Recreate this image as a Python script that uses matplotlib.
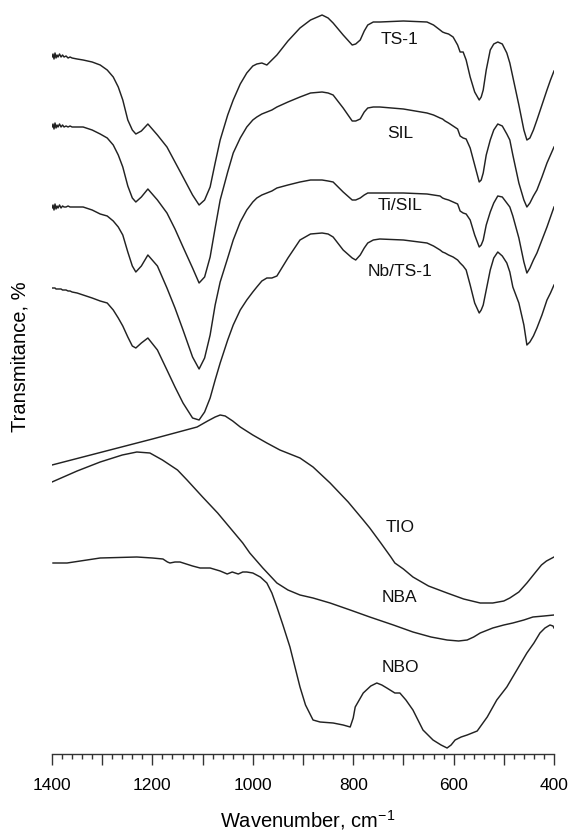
import matplotlib

matplotlib.use("AGG")
import numpy as np
import matplotlib.pyplot as plt
from matplotlib.ticker import MultipleLocator, FuncFormatter

plt.rcParams["font.family"] = ["Liberation Sans", "DejaVu Sans"]

# wavenumber grid shared by the four zeolite spectra (cm-1)
wn_zeo = [1400, 1398, 1396, 1394, 1392, 1390, 1388, 1385, 1382, 1379,
          1376, 1372, 1368, 1364, 1360, 1350, 1338, 1320, 1304, 1290,
          1278, 1268, 1259, 1249, 1240, 1233, 1222, 1209, 1190, 1171,
          1155, 1139, 1120, 1107, 1096, 1085, 1075, 1065, 1050, 1039,
          1025, 1012, 1000, 992, 982, 972, 962, 952, 930, 906,
          885, 862, 850, 840, 820, 802, 795, 786, 778, 771,
          760, 747, 700, 653, 640, 627, 622, 617, 610, 601,
          592, 587, 581, 575, 567, 558, 549, 545, 541, 535,
          527, 520, 512, 503, 494, 488, 482, 470, 460, 454,
          448, 441, 434, 424, 414, 407, 400]

# transmittance, offset stacked (arbitrary units)
ts1 = [697, 700, 695, 701, 696, 699, 697, 700, 697, 699,
       697, 698, 696, 697, 696, 695, 694, 692, 689, 684,
       677, 667, 654, 634, 624, 620, 623, 630, 619, 607,
       592, 577, 559, 549, 554, 567, 591, 614, 639, 654,
       670, 681, 688, 690, 691, 689, 694, 699, 713, 726,
       734, 739, 736, 731, 719, 709, 710, 714, 723, 729,
       732, 732, 733, 732, 729, 724, 722, 721, 720, 717,
       709, 702, 702, 694, 677, 662, 654, 657, 664, 684,
       704, 710, 712, 710, 701, 691, 677, 649, 624, 614,
       616, 624, 634, 649, 664, 674, 683]
sil = [627, 630, 625, 631, 626, 629, 627, 630, 627, 629,
       627, 628, 627, 628, 627, 627, 627, 624, 620, 616,
       609, 599, 587, 568, 556, 552, 557, 565, 554, 541,
       525, 507, 486, 471, 477, 497, 526, 554, 582, 601,
       616, 627, 634, 637, 640, 642, 644, 647, 652, 657,
       661, 662, 661, 659, 646, 633, 633, 635, 642, 646,
       647, 647, 645, 641, 639, 636, 635, 633, 631, 628,
       625, 618, 616, 615, 606, 589, 572, 574, 581, 599,
       614, 624, 630, 628, 620, 614, 599, 571, 554, 547,
       551, 558, 564, 577, 591, 599, 607]
ti_sil = [546, 549, 544, 550, 545, 548, 546, 549, 546, 548,
          547, 547, 548, 547, 547, 547, 547, 544, 540, 538,
          533, 527, 519, 502, 488, 482, 488, 499, 488, 466,
          446, 424, 397, 385, 396, 419, 449, 472, 496, 514,
          532, 544, 552, 556, 559, 561, 563, 566, 569, 572,
          574, 574, 573, 572, 562, 554, 554, 556, 559, 561,
          561, 561, 561, 560, 559, 558, 556, 555, 554, 552,
          550, 543, 541, 540, 534, 519, 507, 509, 514, 529,
          542, 551, 558, 557, 551, 547, 538, 516, 492, 481,
          486, 494, 501, 514, 527, 537, 547]
nb_ts1 = [466, 466, 466, 466, 465, 465, 465, 465, 465, 464,
          464, 464, 463, 463, 462, 461, 459, 456, 453, 451,
          444, 436, 428, 417, 408, 406, 411, 416, 404, 384,
          367, 351, 336, 334, 342, 356, 374, 391, 414, 429,
          444, 454, 462, 467, 473, 476, 476, 478, 496, 514,
          520, 521, 520, 517, 504, 496, 494, 499, 506, 511,
          514, 515, 514, 511, 508, 504, 502, 501, 499, 497,
          494, 491, 488, 484, 469, 451, 441, 444, 449, 464,
          484, 496, 502, 498, 491, 482, 467, 451, 429, 409,
          412, 418, 426, 439, 454, 461, 469]

wn_tio = [1400, 1300, 1200, 1111, 1090, 1075, 1065, 1055, 1040, 1025,
          1000, 972, 946, 906, 880, 846, 810, 780, 767, 745,
          725, 717, 700, 681, 650, 613, 580, 547, 522, 500,
          488, 470, 454, 438, 425, 415, 400]
tio = [289, 302, 315, 327, 333, 337, 339, 338, 333, 327,
       319, 311, 304, 296, 287, 271, 252, 234, 226, 211,
       197, 191, 185, 177, 168, 161, 155, 151, 151, 153,
       156, 162, 171, 181, 189, 193, 197]

wn_nba = [1400, 1350, 1304, 1260, 1231, 1205, 1180, 1150, 1131, 1100,
          1070, 1045, 1020, 1006, 980, 952, 930, 906, 880, 846,
          806, 767, 720, 681, 645, 613, 590, 573, 560, 547,
          522, 500, 482, 460, 442, 420, 400]
nba = [272, 283, 292, 299, 302, 301, 294, 284, 274, 257,
       241, 226, 211, 201, 186, 171, 164, 159, 156, 151,
       144, 137, 129, 122, 117, 114, 113, 114, 117, 121,
       126, 129, 131, 134, 137, 138, 139]

wn_nbo = [1398, 1370, 1304, 1231, 1200, 1179, 1170, 1165, 1155, 1145,
          1120, 1105, 1085, 1065, 1051, 1041, 1035, 1029, 1020, 1012,
          1000, 985, 972, 962, 952, 940, 926, 906, 895, 880,
          866, 840, 820, 806, 800, 796, 780, 765, 753, 743,
          733, 717, 707, 695, 681, 661, 641, 625, 613, 605,
          597, 585, 573, 553, 533, 514, 494, 474, 454, 440,
          428, 418, 408, 402, 400]
nbo = [191, 191, 196, 197, 196, 195, 192, 191, 192, 192,
       188, 186, 186, 183, 180, 182, 181, 180, 182, 182,
       181, 177, 171, 161, 147, 129, 107, 67, 49, 34,
       32, 31, 29, 27, 36, 47, 61, 68, 71, 69,
       66, 61, 61, 54, 44, 24, 14, 9, 6, 9,
       14, 17, 19, 23, 37, 54, 67, 84, 101, 111,
       121, 126, 129, 128, 126]

labels = ["TS-1", "SIL", "Ti/SIL", "Nb/TS-1", "TIO", "NBA", "NBO"]
label_y = [715, 620, 549, 483, 227, 157, 87]  # where each name sits
label_x = 707

fig = plt.figure(figsize=(5.73, 8.31), dpi=100)
ax = fig.add_axes([52 / 573, 77 / 831, 502 / 573, 754 / 831])

line_kw = dict(color="#222222", lw=1.05, solid_joinstyle="round")
for y in (ts1, sil, ti_sil, nb_ts1):
    ax.plot(wn_zeo, y, **line_kw)
ax.plot(wn_tio, tio, **line_kw)
ax.plot(wn_nba, nba, **line_kw)
ax.plot(wn_nbo, nbo, **line_kw)

for name, ly in zip(labels, label_y):
    ax.text(label_x, ly, name, ha="center", va="center", fontsize=12.5,
            color="#111111")

ax.set_xlim(1400, 400)
ax.set_ylim(0, 754)

for s in ("left", "right", "top"):
    ax.spines[s].set_visible(False)
ax.spines["bottom"].set_linewidth(1.0)
ax.spines["bottom"].set_color("#333333")
ax.set_yticks([])

ax.xaxis.set_major_locator(MultipleLocator(100))
ax.xaxis.set_minor_locator(MultipleLocator(20))
ax.xaxis.set_major_formatter(
    FuncFormatter(lambda v, p: "{:d}".format(int(v)) if int(v) % 200 == 0 else "")
)
ax.tick_params(axis="x", which="major", direction="out", length=8, width=1.0,
               color="#333333", labelsize=12.5, pad=9)
ax.tick_params(axis="x", which="minor", direction="out", length=3.6, width=1.0,
               color="#333333")

ax.set_xlabel(r"Wavenumber, cm$^{\mathregular{-1}}$", fontsize=14.5)
ax.xaxis.label.set_verticalalignment("baseline")
ax.xaxis.set_label_coords(0.51, -0.0968)

fig.text(20 / 573, 1 - 357 / 831, "Transmitance, %", rotation=90,
         ha="center", va="center", fontsize=14.5)

fig.savefig("out.png", dpi=100)
